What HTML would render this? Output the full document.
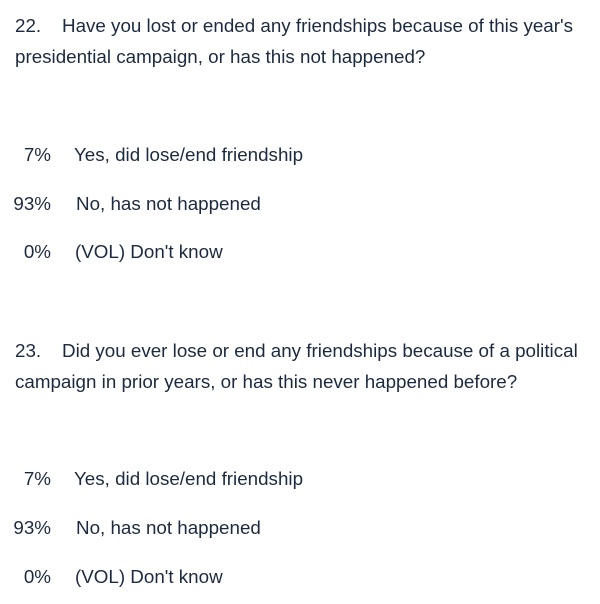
<!DOCTYPE html>
<html><head><meta charset="utf-8"><style>
body{margin:0;width:600px;height:604px;background:#fff;position:relative;font-family:"Liberation Sans",sans-serif;color:#1c2a40;font-size:18.8px;overflow:hidden}
div{position:absolute;white-space:nowrap;line-height:20px;margin-top:1px}
.p{width:51px;text-align:right;left:0}
</style></head><body>
<div style="left:15px;top:15px">22.</div>
<div style="left:62px;top:15px">Have you lost or ended any friendships because of this year's</div>
<div style="left:15px;top:46px">presidential campaign, or has this not happened?</div>
<div class="p" style="top:144px">7%</div>
<div style="left:74px;top:144px">Yes, did lose/end friendship</div>
<div class="p" style="top:193px">93%</div>
<div style="left:76px;top:193px">No, has not happened</div>
<div class="p" style="top:241px">0%</div>
<div style="left:75px;top:241px">(VOL) Don't know</div>
<div style="left:15px;top:340px">23.</div>
<div style="left:62px;top:340px">Did you ever lose or end any friendships because of a political</div>
<div style="left:15px;top:371px">campaign in prior years, or has this never happened before?</div>
<div class="p" style="top:468px">7%</div>
<div style="left:74px;top:468px">Yes, did lose/end friendship</div>
<div class="p" style="top:517px">93%</div>
<div style="left:76px;top:517px">No, has not happened</div>
<div class="p" style="top:566px">0%</div>
<div style="left:75px;top:566px">(VOL) Don't know</div>
</body></html>
